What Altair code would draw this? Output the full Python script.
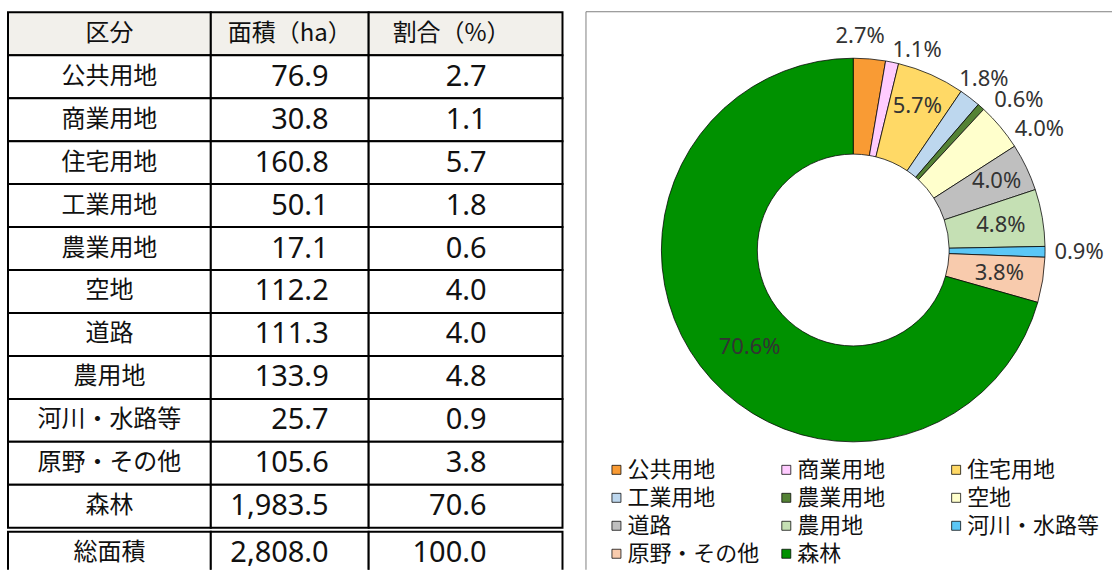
import altair as alt
import pandas as pd

# ---------------- data ----------------
categories = ["公共用地", "商業用地", "住宅用地", "工業用地", "農業用地", "空地",
              "道路", "農用地", "河川・水路等", "原野・その他", "森林"]
areas = [76.9, 30.8, 160.8, 50.1, 17.1, 112.2, 111.3, 133.9, 25.7, 105.6, 1983.5]
shares = [2.7, 1.1, 5.7, 1.8, 0.6, 4.0, 4.0, 4.8, 0.9, 3.8, 70.6]
header_labels = ["区分", "面積（ha）", "割合（%）"]
total_label = "総面積"
total_area = 2808.0
total_share = 100.0

# ---------------- style ----------------
colors = ["#F99B34", "#FFCCFF", "#FFD966", "#BDD7EE", "#548235", "#FFFFCC",
          "#BFBFBF", "#C5E0B4", "#5BC7F6", "#F8CBAD", "#009100"]
label_radius = [214, 210, 158, 215, 224, 222, 159, 150, 226, 148, 142]
label_nudge = [-3, 6, 0, 0, 6, 7, 0, 0, 0, 0, -6]

ROW_H = 43
GAP = 4                       # double rule gap before the total row
M = 2                         # margin inside the table view so strokes are not clipped
col_edges = [0, 203, 361, 555]
head_x = [101.5, 282, 444]    # centre of header / label text
num_x = [None, 321, 479]      # right edge of numbers
CJK = "Noto Sans CJK JP"
NUM = "Noto Sans"
HEAD_FILL = "#F2F0EB"

col_texts = [
    [header_labels[0]] + categories + [total_label],
    [header_labels[1]] + [f"{v:,.1f}" for v in areas] + [f"{total_area:,.1f}"],
    [header_labels[2]] + [f"{v:.1f}" for v in shares] + [f"{total_share:.1f}"],
]
n_rows = len(col_texts[0])

recs = []
for c in range(3):
    for r in range(n_rows):
        y0 = r * ROW_H + (GAP if r == n_rows - 1 else 0)
        is_cjk = (c == 0) or (r == 0)
        recs.append({
            "row": r, "col": c, "text": col_texts[c][r],
            "x0": col_edges[c], "x1": col_edges[c + 1],
            "y0": y0, "y1": y0 + ROW_H, "yc": y0 + ROW_H / 2,
            "fill": HEAD_FILL if r == 0 else "white",
            "kind": "cjk" if is_cjk else "num",
            "tx": head_x[c] if is_cjk else num_x[c],
        })
cells = pd.DataFrame(recs)

TW = col_edges[-1] + 2 * M      # table view width
TH = 560                         # table view height (bottom row runs off the page)
xs = alt.Scale(domain=[-M, TW - M], range=[0, TW], nice=False, zero=False)
ys = alt.Scale(domain=[-M, TH - M], range=[0, TH], nice=False, zero=False)

tbase = alt.Chart(cells)
rects = tbase.mark_rect(stroke="black", strokeWidth=2, clip=True).encode(
    x=alt.X("x0:Q", scale=xs, axis=None), x2="x1:Q",
    y=alt.Y("y0:Q", scale=ys, axis=None), y2="y1:Q",
    fill=alt.Fill("fill:N", scale=None),
)
cjk_text = tbase.transform_filter("datum.kind == 'cjk'").mark_text(
    font=CJK, fontSize=24, align="center", baseline="middle", color="#111111"
).encode(
    x=alt.X("tx:Q", scale=xs, axis=None),
    y=alt.Y("yc:Q", scale=ys, axis=None),
    text=alt.Text("text:N"),
)
num_text = tbase.transform_filter("datum.kind == 'num'").mark_text(
    font=NUM, fontSize=29, align="right", baseline="middle", color="#111111"
).encode(
    x=alt.X("tx:Q", scale=xs, axis=None),
    y=alt.Y("yc:Q", scale=ys, axis=None),
    text=alt.Text("text:N"),
)
table = alt.layer(rects, cjk_text, num_text).properties(width=TW, height=TH)

# ---------------- donut ----------------
pie_df = pd.DataFrame({
    "idx": list(range(len(categories))),
    "cat": categories,
    "share": shares,
    "area": areas,
    "r": label_radius,
    "nudge": label_nudge,
})

PW, PH = 528, 560
CX, CY = 269, 240
pbase = alt.Chart(pie_df)
arcs = pbase.mark_arc(innerRadius=96, outerRadius=192, stroke="black", strokeWidth=0.75).encode(
    theta=alt.Theta("share:Q", stack=True),
    order=alt.Order("idx:Q"),
    color=alt.Color(
        "cat:N",
        sort=categories,
        scale=alt.Scale(domain=categories, range=colors),
        legend=alt.Legend(
            title=None, orient="none", legendX=600, legendY=449, columns=3,
            direction="horizontal",
            symbolType="square", symbolSize=81, symbolStrokeColor="black",
            symbolStrokeWidth=0.75, labelFont=CJK, labelFontSize=22,
            labelColor="#111111", labelLimit=400, labelOffset=0,
            rowPadding=6, columnPadding=15, gridAlign="all", padding=0, offset=0,
        ),
    ),
    x=alt.value(CX), y=alt.value(CY),
)

labels = pbase.transform_joinaggregate(tot="sum(share)").transform_window(
    cum="sum(share)", sort=[alt.SortField("idx", order="ascending")]
).transform_calculate(
    ang="((datum.cum - datum.share / 2) / datum.tot) * 2 * PI + datum.nudge * PI / 180",
    lbl="format(datum.share, '.1f') + '%'",
).mark_text(font=NUM, fontSize=22, color="#333333", align="center", baseline="middle").encode(
    theta=alt.Theta("ang:Q", scale=None, stack=False),
    radius=alt.Radius("r:Q", scale=None),
    text=alt.Text("lbl:N"),
    x=alt.value(CX), y=alt.value(CY),
)

frame_df = pd.DataFrame({"k": [0]})
frame_left = alt.Chart(frame_df).mark_rule(color="#808080", strokeWidth=1).encode(
    x=alt.value(1.5), y=alt.value(1.5), y2=alt.value(PH))
frame_top = alt.Chart(frame_df).mark_rule(color="#808080", strokeWidth=1).encode(
    x=alt.value(1.5), x2=alt.value(PW), y=alt.value(1.5))

donut = alt.layer(frame_left, frame_top, arcs, labels).resolve_scale(
    theta="independent", radius="independent"
).properties(width=PW, height=PH)

chart = alt.hconcat(table, donut, spacing=20).properties(
    padding={"left": 6, "top": 10, "right": 0, "bottom": 0},
    background="white",
).configure_view(strokeWidth=0)

chart.save("out.html", embed_options={"renderer": "svg", "actions": False})
